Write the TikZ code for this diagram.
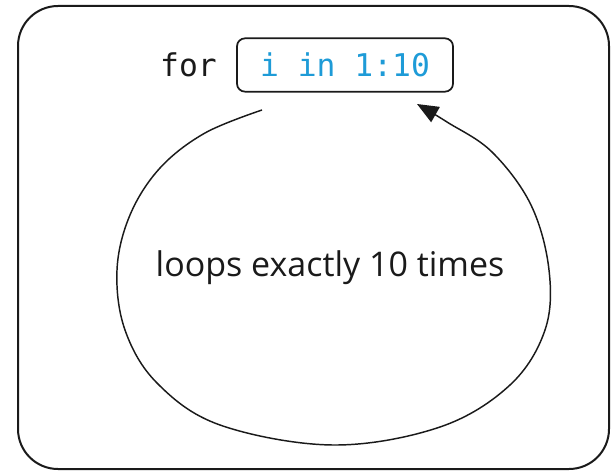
\documentclass[tikz,border=0pt]{standalone}
\usepackage{fontspec}
\usepackage{xcolor}
\usetikzlibrary{arrows.meta,positioning}
\newfontfamily\codefont{DejaVu Sans Mono}
\newfontfamily\handfont{Open Sans}
\definecolor{codeblue}{HTML}{1E9BD7}
\definecolor{ink}{HTML}{1A1A1A}
\tikzset{
  framebox/.style={
    draw=ink, line width=1.5pt, rounded corners=30pt
  },
  rangebox/.style={
    rectangle, draw=ink, line width=1.3pt, rounded corners=6pt,
    minimum width=162pt, minimum height=40pt,
    font=\codefont\fontsize{23.5}{26}\selectfont, text=codeblue,
    inner sep=4pt
  },
  kwtext/.style={
    font=\codefont\fontsize{23.5}{26}\selectfont, text=ink
  },
  looparrow/.style={
    -{Triangle[length=16pt,width=13pt]}, line width=1.1pt, color=ink
  },
  labeltext/.style={
    font=\handfont\fontsize{25.5}{30}\selectfont, text=ink
  },
}
\begin{document}
\begin{tikzpicture}[x=0.75pt, y=0.75pt]
  \useasboundingbox (0,0) rectangle (613,-474);
  % outer frame
  \draw[framebox] (18,-6) rectangle (609,-469);
  % for header
  \node[rangebox] (range) at (345,-65) {i in 1:10};
  \node[kwtext, left=11pt of range] (kw) {for};
  % loop around the label
  \node[labeltext] (label) at (330,-268) {loops exactly 10 times};
  \coordinate (loopstart) at (262,-110);
  \coordinate (loopend) at (417,-104);
  \draw[looparrow] plot[smooth, tension=0.6] coordinates {
    (loopstart) (205,-133) (160,-168) (130,-215) (117,-270) (125,-330)
    (157,-383) (220,-425) (333,-445) (440,-427) (510,-385) (545,-330)
    (549,-270) (531,-205) (492,-152) (447,-122) (loopend)};
\end{tikzpicture}
\end{document}
